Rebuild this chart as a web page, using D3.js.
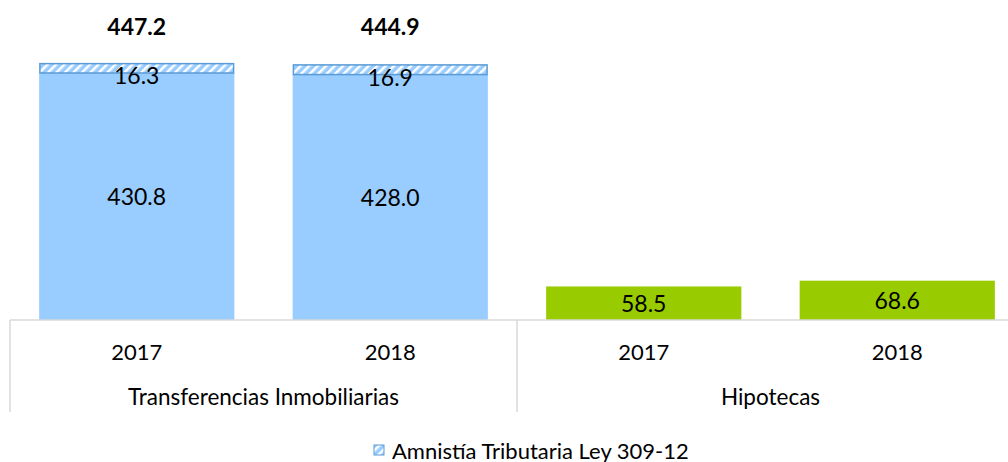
<!DOCTYPE html>
<html>
<head>
<meta charset="utf-8">
<script src="https://cdn.jsdelivr.net/npm/d3@7"></script>
<style>
  body { margin: 0; background: #fff; }
</style>
</head>
<body>
<div id="chart"></div>
<script>
// Data
const groups = ['Transferencias Inmobiliarias', 'Hipotecas'];
const years = ['2017', '2018'];
const baseValues = [[430.8, 428.0], [58.5, 68.6]];
const amnistiaValues = [[16.3, 16.9], [0, 0]];
const totalLabels = [['447.2', '444.9'], [null, null]];
const legendLabel = 'Amnistía Tributaria Ley 309-12';

const width = 1008;
const height = 462;
const baseY = 320;
const font = 'Lato, "Open Sans", sans-serif';

const svg = d3.select('#chart')
    .append('svg')
    .attr('width', width)
    .attr('height', height);

// hatch pattern for the amnesty segment
const defs = svg.append('defs');
const pat = defs.append('pattern')
    .attr('id', 'hatch')
    .attr('patternUnits', 'userSpaceOnUse')
    .attr('width', 6)
    .attr('height', 6)
    .attr('patternTransform', 'rotate(45)');
pat.append('rect').attr('width', 6).attr('height', 6).attr('fill', '#99CCFF');
pat.append('rect').attr('x', 0).attr('width', 2.5).attr('height', 6).attr('fill', '#fff');

// Scales
const x0 = d3.scaleBand()
    .domain(groups)
    .range([10, 1024])
    .paddingInner(0)
    .paddingOuter(0);

const x1 = d3.scaleBand()
    .domain(years)
    .range([0, x0.bandwidth()])
    .paddingInner(0.23)
    .paddingOuter(0.115);

const y = d3.scaleLinear()
    .domain([0, 500])
    .range([baseY, baseY - 500 * 0.5734]);

const colors = ['#99CCFF', '#99CC00'];

// Bars
groups.forEach((g, gi) => {
    years.forEach((yr, yi) => {
        const bx = x0(g) + x1(yr);
        const bw = x1.bandwidth();
        const v = baseValues[gi][yi];
        const a = amnistiaValues[gi][yi];

        svg.append('rect')
            .attr('x', bx)
            .attr('y', y(v))
            .attr('width', bw)
            .attr('height', y(0) - y(v))
            .attr('fill', colors[gi]);

        svg.append('text')
            .attr('x', bx + bw / 2)
            .attr('y', (y(0) + y(v)) / 2)
            .attr('text-anchor', 'middle')
            .attr('dominant-baseline', 'central')
            .attr('font-family', font)
            .attr('font-size', '23px')
            .attr('fill', '#000')
            .text(v.toFixed(1));

        if (a > 0) {
            svg.append('rect')
                .attr('x', bx + 0.75)
                .attr('y', y(v + a))
                .attr('width', bw - 1.5)
                .attr('height', y(v) - y(v + a))
                .attr('fill', 'url(#hatch)')
                .attr('stroke', '#5B9BD5')
                .attr('stroke-width', 1.5);

            svg.append('text')
                .attr('x', bx + bw / 2)
                .attr('y', (y(v) + y(v + a)) / 2 + 7)
                .attr('text-anchor', 'middle')
                .attr('dominant-baseline', 'central')
                .attr('font-family', font)
                .attr('font-size', '23px')
                .attr('fill', '#000')
                .text(a.toFixed(1));
        }

        if (totalLabels[gi][yi]) {
            svg.append('text')
                .attr('x', bx + bw / 2)
                .attr('y', 26)
                .attr('text-anchor', 'middle')
                .attr('dominant-baseline', 'central')
                .attr('font-family', font)
                .attr('font-size', '23px')
                .attr('font-weight', 'bold')
                .attr('fill', '#000')
                .text(totalLabels[gi][yi]);
        }
    });
});

// Axis: baseline and group dividers
svg.append('line')
    .attr('x1', 10).attr('x2', width)
    .attr('y1', baseY).attr('y2', baseY)
    .attr('stroke', '#D9D9D9').attr('stroke-width', 1.5);

groups.forEach(g => {
    svg.append('line')
        .attr('x1', x0(g)).attr('x2', x0(g))
        .attr('y1', baseY).attr('y2', 412)
        .attr('stroke', '#D9D9D9').attr('stroke-width', 1.5);
});

// Year labels and group labels
groups.forEach(g => {
    years.forEach(yr => {
        svg.append('text')
            .attr('x', x0(g) + x1(yr) + x1.bandwidth() / 2)
            .attr('y', 351)
            .attr('text-anchor', 'middle')
            .attr('dominant-baseline', 'central')
            .attr('font-family', font)
            .attr('font-size', '22px')
            .attr('fill', '#000')
            .text(yr);
    });
    svg.append('text')
        .attr('x', x0(g) + x0.bandwidth() / 2)
        .attr('y', 396)
        .attr('text-anchor', 'middle')
        .attr('dominant-baseline', 'central')
        .attr('font-family', font)
        .attr('font-size', '22.5px')
        .attr('fill', '#000')
        .text(g);
});

// Legend
svg.append('rect')
    .attr('x', 374)
    .attr('y', 445)
    .attr('width', 10)
    .attr('height', 10)
    .attr('fill', 'url(#hatch)')
    .attr('stroke', '#5B9BD5')
    .attr('stroke-width', 1);

svg.append('text')
    .attr('x', 392)
    .attr('y', 450)
    .attr('dominant-baseline', 'central')
    .attr('font-family', font)
    .attr('font-size', '22px')
    .attr('fill', '#000')
    .text(legendLabel);
</script>
</body>
</html>
